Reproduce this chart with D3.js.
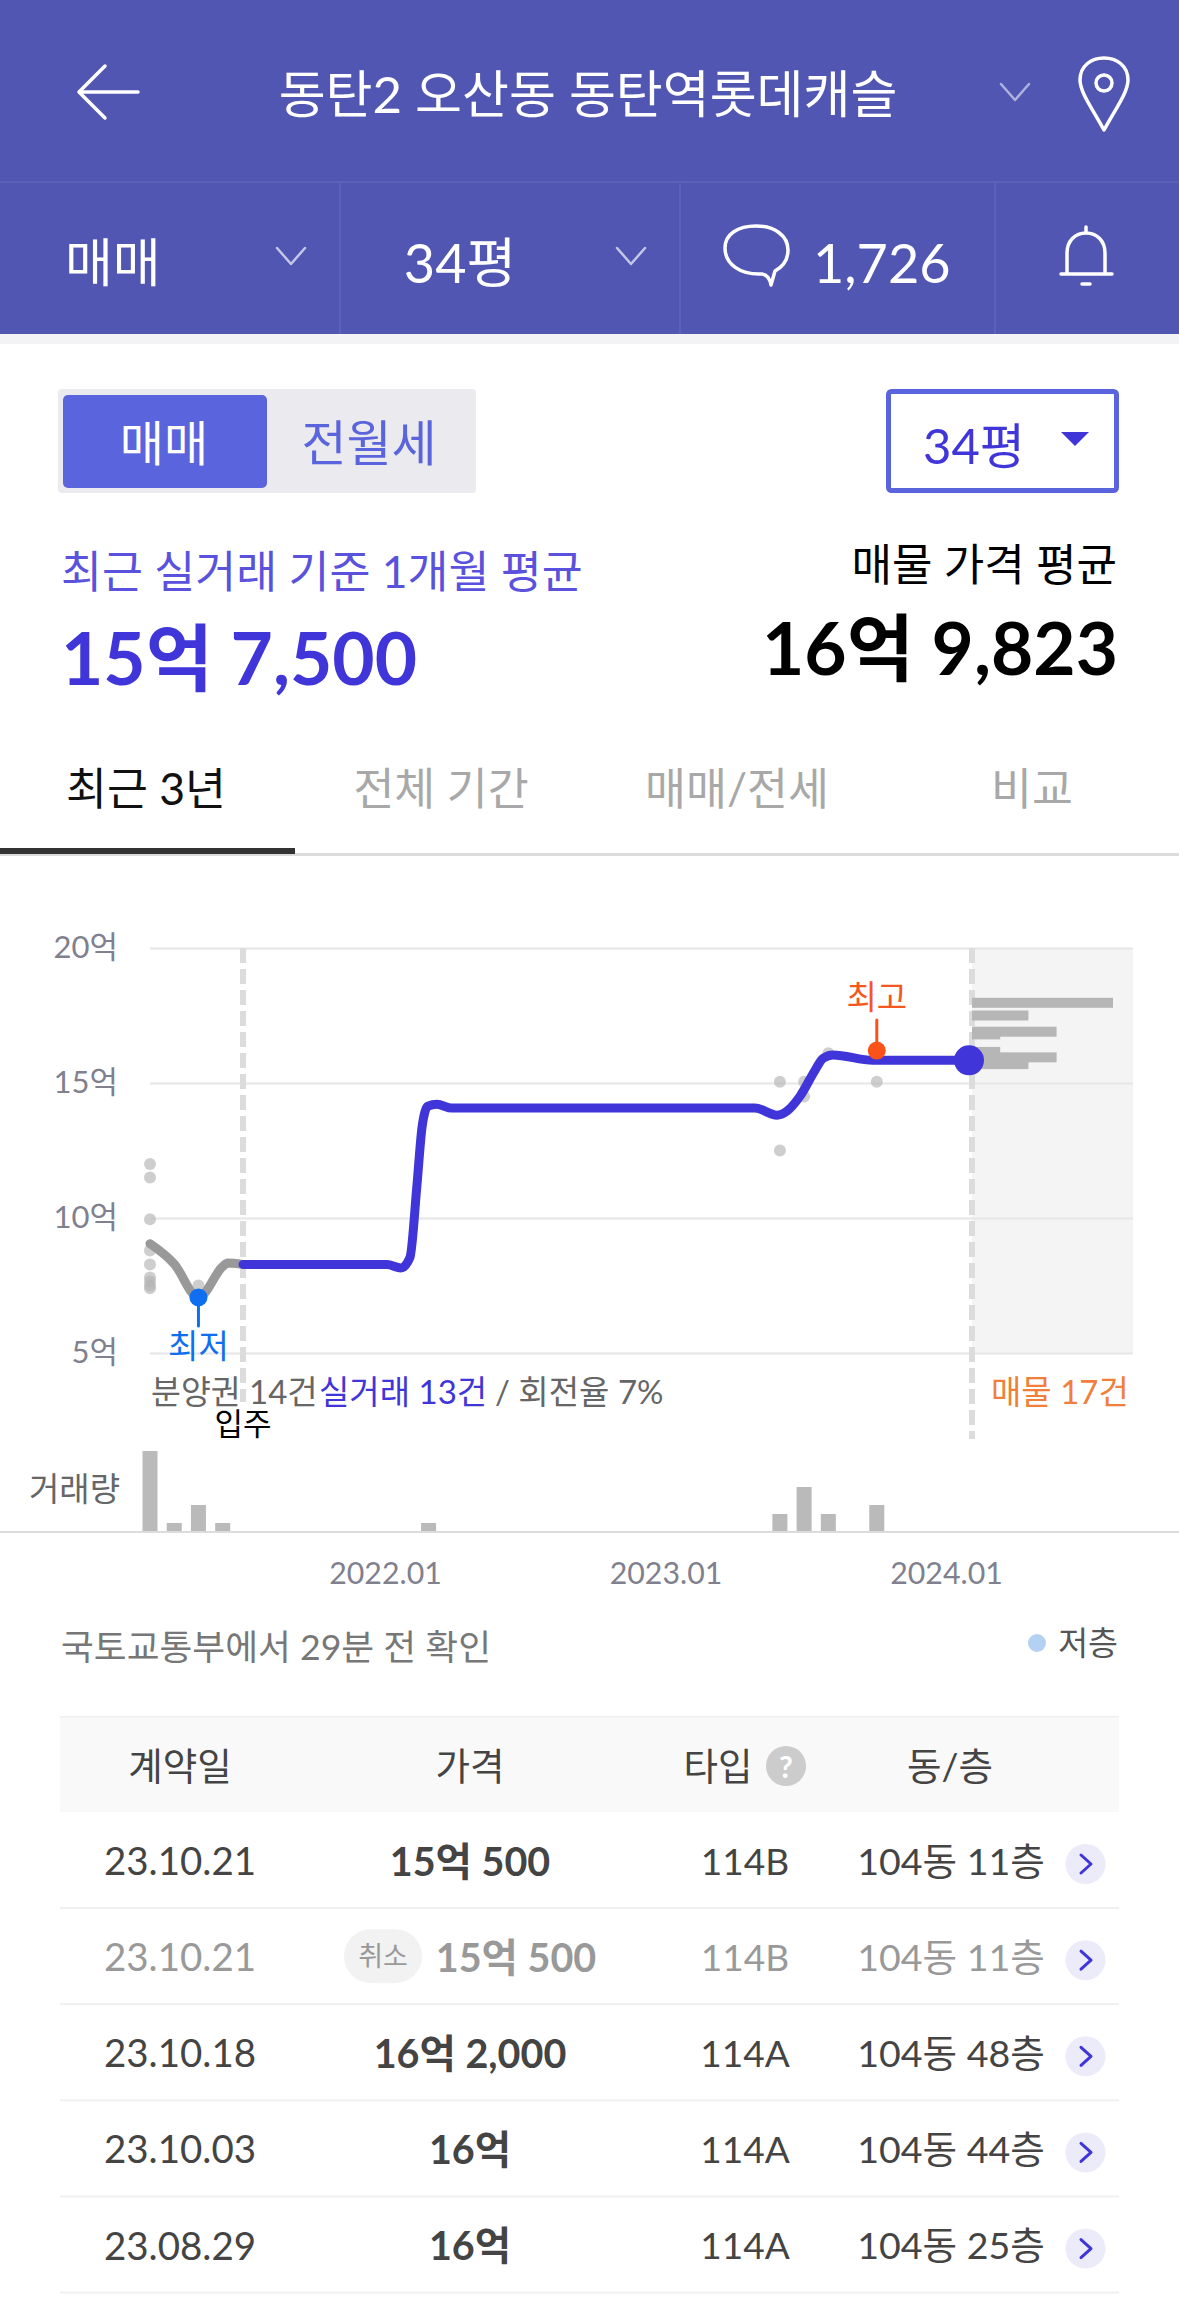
<!DOCTYPE html>
<html lang="ko">
<head>
<meta charset="utf-8">
<title>동탄역롯데캐슬 실거래가</title>
<script src="https://cdn.jsdelivr.net/npm/d3@7"></script>
<style>
	html, body { margin: 0; padding: 0; background: #fff; }
	svg { display: block; }
	text { font-family: Lato, "Noto Sans CJK KR", sans-serif; }
</style>
</head>
<body>
<svg id="page" width="1179" height="2297" viewBox="0 0 1179 2297"></svg>
<script>
// price ticks (unit: 억)
const priceTicks = [5, 10, 15, 20];
const yearTicks = ['2022-01', '2023-01', '2024-01'];

// months counted from 2021.04, fractions where the curve bends between months
const presaleMonths = [0, 1, 2, 3, 3.2, 3.84];
const presalePrices = [9.05, 8.3, 7.06, 8.2, 8.33, 8.28];
const tradeMonths = [3.84, 9.78, 10.36, 10.73, 11.02, 11.23, 11.47, 11.84, 12.46, 24.97, 25.88, 26.29, 26.83, 27.45, 27.78, 28.19, 29.84, 33.93];
const tradePrices = [8.28, 8.28, 8.15, 8.54, 11.23, 13.37, 14.14, 14.21, 14.07, 14.07, 13.81, 13.96, 14.51, 15.47, 15.91, 16.04, 15.84, 15.84];

// single deals
const dealMonths = [0, 0, 0, 0, 0, 0, 0, 0, 0, 2, 26, 26, 27, 27, 28, 30];
const dealPrices = [12, 11.5, 9.95, 8.8, 8.28, 7.8, 7.65, 7.5, 7.4, 7.5, 15.05, 12.5, 15.05, 14.5, 16.1, 15.05];

// deals per month
const volumeMonths = [0, 1, 2, 3, 11.5, 26, 27, 28, 30];
const volumeCounts = [9, 1, 3, 1, 1, 2, 5, 2, 3];

// listings: asking price and count
const listingPrices = [17.97, 17.5, 16.9, 16.8, 16.15, 15.95, 15.7];
const listingCounts = [5, 2, 3, 1, 1, 3, 2];

const lowMonth = 2, lowPrice = 7.06;
const highMonth = 30, highPrice = 16.2;
const moveInMonth = 3.84, lastMonth = 33.93, lastPrice = 15.84;

// table
const tableHeads = ['계약일', '가격', '타입', '동/층'];
const tableDates = ['23.10.21', '23.10.21', '23.10.18', '23.10.03', '23.08.29'];
const tablePrices = ['15억 500', '15억 500', '16억 2,000', '16억', '16억'];
const tableTypes = ['114B', '114B', '114A', '114A', '114A'];
const tableUnits = ['104동 11층', '104동 11층', '104동 48층', '104동 44층', '104동 25층'];
const tableCancelled = [false, true, false, false, false];

const BLUE = '#3f35d9', SOFT = '#5a64dc', HEAD = '#5056b2';
const svg = d3.select('#page');

const label = (x, y, str, size, fill, o = {}) =>
	svg.append('text')
		.attr('x', x).attr('y', y)
		.attr('font-size', size).attr('fill', fill)
		.attr('text-anchor', o.anchor || 'middle')
		.attr('dominant-baseline', 'central')
		.attr('font-weight', o.weight || 400)
		.text(str);

const stroke = (d, color, width = 3) =>
	svg.append('path').attr('d', d).attr('fill', 'none')
		.attr('stroke', color).attr('stroke-width', width)
		.attr('stroke-linecap', 'round').attr('stroke-linejoin', 'round');

const chevron = (x, y, color) => stroke(`M${x - 14},${y - 8}L${x},${y + 8}L${x + 14},${y - 8}`, color, 2.5);

// top bars
svg.append('rect').attr('width', 1179).attr('height', 334).attr('fill', HEAD);
svg.append('rect').attr('y', 334).attr('width', 1179).attr('height', 10).attr('fill', '#f3f3f5');
svg.append('rect').attr('y', 181).attr('width', 1179).attr('height', 2).attr('fill', '#5a61b9');
[339, 679, 994].forEach((x) => svg.append('rect').attr('x', x).attr('y', 183).attr('width', 2).attr('height', 151).attr('fill', '#5a61b9'));

stroke('M79,92L138,92M105,66L79,92L105,118', '#fff', 3.5);
label(588, 93, '동탄2 오산동 동탄역롯데캐슬', 51, '#fff');
chevron(1015, 92, '#aeb2dd');
stroke('M1104,130C1092,108 1080,92 1080,80C1080,66 1091,58 1104,58C1117,58 1128,66 1128,80C1128,92 1116,108 1104,130Z', '#fff', 3.5);
svg.append('circle').attr('cx', 1104).attr('cy', 83).attr('r', 8).attr('fill', 'none').attr('stroke', '#fff').attr('stroke-width', 3.5);

label(65, 262, '매매', 52, '#fff', { anchor: 'start' });
chevron(291, 256, '#c4c7e8');
label(460, 262, '34평', 54, '#fff');
chevron(631, 256, '#c4c7e8');
stroke('M771,285C770,279 768,275 762,274C740,275 725,264 725,248C725,234 738,226 756,226C775,226 788,236 788,250C788,259 784,266 775,271Z', '#fff', 3.5);
label(813, 262, '1,726', 54, '#fff', { anchor: 'start' });
stroke('M1086,227L1086,233M1061,274L1112,274M1067,274L1067,253C1067,241 1075,233 1086,233C1097,233 1105,241 1105,253L1105,274', '#fff', 3.5);
stroke('M1082,284L1090,284', '#fff', 3.5);

// switches
svg.append('rect').attr('x', 58).attr('y', 389).attr('width', 418).attr('height', 104).attr('rx', 4).attr('fill', '#ebebef');
svg.append('rect').attr('x', 63).attr('y', 395).attr('width', 204).attr('height', 93).attr('rx', 5).attr('fill', SOFT);
label(164, 442, '매매', 48, '#fff');
label(369, 442, '전월세', 49, SOFT);
svg.append('rect').attr('x', 888.5).attr('y', 391.5).attr('width', 228).attr('height', 99).attr('rx', 3)
	.attr('fill', '#fff').attr('stroke', SOFT).attr('stroke-width', 5);
label(974, 445, '34평', 49, BLUE);
svg.append('path').attr('d', 'M1061,432L1089,432L1075,446Z').attr('fill', BLUE);

// summary
label(61, 570, '최근 실거래 기준 1개월 평균', 44.5, '#5a52dc', { anchor: 'start' });
label(61, 657, '15억 7,500', 73, BLUE, { anchor: 'start', weight: 700 });
label(1117, 564, '매물 가격 평균', 44, '#000', { anchor: 'end' });
label(1118, 647, '16억 9,823', 73, '#000', { anchor: 'end', weight: 700 });

// tabs
label(146, 787, '최근 3년', 44.5, '#111');
label(441, 787, '전체 기간', 44.5, '#a8a8a8');
label(737, 787, '매매/전세', 44.5, '#a8a8a8');
label(1032, 787, '비교', 44.5, '#a8a8a8');
svg.append('rect').attr('y', 853).attr('width', 1179).attr('height', 3).attr('fill', '#dcdcdc');
svg.append('rect').attr('y', 848).attr('width', 295).attr('height', 6).attr('fill', '#333');

// scales
const x = d3.scaleLinear().domain([0, lastMonth]).range([150, 972]);
const y = d3.scaleLinear().domain([5, 20]).range([1353, 948]);
const yearX = d3.scaleTime().domain([new Date(2022, 0, 1), new Date(2024, 0, 1)]).range([385, 946]);
const volY = d3.scaleLinear().domain([0, 9]).range([1532, 1451]);
const listW = d3.scaleLinear().domain([0, 5]).range([0, 141]);

// listing panel
svg.append('rect').attr('x', x(lastMonth)).attr('y', y(20)).attr('width', 161).attr('height', y(5) - y(20)).attr('fill', '#f4f4f5');

// grid
const grid = svg.append('g').attr('transform', 'translate(150,0)')
	.call(d3.axisRight(y).tickValues(priceTicks).tickSize(983).tickFormat(''));
grid.select('.domain').remove();
grid.selectAll('line').attr('stroke', '#e6e6e6').attr('stroke-width', 2);

const yAxis = svg.append('g').attr('transform', 'translate(118,0)')
	.call(d3.axisLeft(y).tickValues(priceTicks).tickSize(0).tickPadding(0).tickFormat((d) => d + '억'));
yAxis.select('.domain').remove();
yAxis.selectAll('text').attr('font-size', 31).attr('font-family', null).attr('fill', '#80808e');

// move-in and today markers
svg.append('line').attr('x1', x(moveInMonth)).attr('x2', x(moveInMonth)).attr('y1', 948).attr('y2', 1402)
	.attr('stroke', '#dcdcdc').attr('stroke-width', 6).attr('stroke-dasharray', '15 6');
svg.append('line').attr('x1', x(lastMonth)).attr('x2', x(lastMonth)).attr('y1', 948).attr('y2', 1439)
	.attr('stroke', '#dcdcdc').attr('stroke-width', 6).attr('stroke-dasharray', '15 6');

// listings
svg.append('g').selectAll('rect').data(listingPrices).join('rect')
	.attr('x', x(lastMonth))
	.attr('y', (d) => y(d) - 5)
	.attr('width', (d, i) => listW(listingCounts[i]))
	.attr('height', 10)
	.attr('fill', '#b6b6b6');

// deals
svg.append('g').selectAll('circle').data(dealPrices).join('circle')
	.attr('cx', (d, i) => x(dealMonths[i]))
	.attr('cy', (d) => y(d))
	.attr('r', 6)
	.attr('fill', '#b4b4b4')
	.attr('fill-opacity', 0.65);

// price lines
const priceLine = d3.line().x((d) => x(d[0])).y((d) => y(d[1])).curve(d3.curveMonotoneX);
stroke(priceLine(d3.zip(presaleMonths, presalePrices)), '#999', 9);
stroke(priceLine(d3.zip(tradeMonths, tradePrices)), BLUE, 9);

// lowest
stroke(`M${x(lowMonth)},${y(lowPrice)}L${x(lowMonth)},1326`, '#0f6ff0', 3);
svg.append('circle').attr('cx', x(lowMonth)).attr('cy', y(lowPrice)).attr('r', 9).attr('fill', '#0f6ff0');
label(x(lowMonth), 1345, '최저', 33, '#0f6ff0');

// highest
stroke(`M${x(highMonth)},${y(highPrice)}L${x(highMonth)},1020`, '#f9531a', 3);
svg.append('circle').attr('cx', x(highMonth)).attr('cy', y(highPrice)).attr('r', 9).attr('fill', '#f9531a');
label(x(highMonth), 996, '최고', 33, '#f4571f');

// latest
svg.append('circle').attr('cx', x(lastMonth) - 3).attr('cy', y(lastPrice)).attr('r', 15).attr('fill', BLUE);

// captions
label(151, 1391, '분양권', 32.5, '#666', { anchor: 'start' });
label(249, 1391, '14건', 33, '#666', { anchor: 'start' });
label(319, 1391, '실거래 13건', 33, BLUE, { anchor: 'start' });
label(495, 1391, '/ 회전율 7%', 33, '#666', { anchor: 'start' });
label(243, 1423, '입주', 31, '#000');
label(991, 1391, '매물 17건', 33, '#ef7f3a', { anchor: 'start' });
label(29, 1488, '거래량', 33, '#666', { anchor: 'start' });

// volume
svg.append('g').selectAll('rect').data(volumeCounts).join('rect')
	.attr('x', (d, i) => x(volumeMonths[i]) - 7.5)
	.attr('y', (d) => volY(d))
	.attr('width', 15)
	.attr('height', (d) => volY(0) - volY(d))
	.attr('fill', '#bababa');
svg.append('rect').attr('y', 1531).attr('width', 1179).attr('height', 2).attr('fill', '#dcdcdc');

const xAxis = svg.append('g').attr('transform', 'translate(0,1572)')
	.call(d3.axisBottom(yearX).tickValues(yearTicks.map((d) => d3.timeParse('%Y-%m')(d))).tickSize(0).tickPadding(0).tickFormat(d3.timeFormat('%Y.%m')));
xAxis.select('.domain').remove();
xAxis.selectAll('text').attr('font-size', 30.3).attr('font-family', null).attr('fill', '#80808e').attr('dy', null).attr('dominant-baseline', 'central');

// source line
label(61, 1646, '국토교통부에서 29분 전 확인', 35.7, '#777', { anchor: 'start' });
svg.append('circle').attr('cx', 1037).attr('cy', 1643).attr('r', 9).attr('fill', '#b3d1f2');
label(1118, 1642, '저층', 32.5, '#555', { anchor: 'end' });

// table
const colDate = 180, colPrice = 470, colType = 745, colUnit = 951;
svg.append('rect').attr('x', 60).attr('y', 1716).attr('width', 1059).attr('height', 96).attr('fill', '#f9f9f9');
svg.append('rect').attr('x', 60).attr('y', 1716).attr('width', 1059).attr('height', 1.5).attr('fill', '#efefef');
label(colDate, 1765, tableHeads[0], 37.5, '#444');
label(colPrice, 1765, tableHeads[1], 37.5, '#444');
label(718, 1765, tableHeads[2], 37.5, '#444');
svg.append('circle').attr('cx', 786).attr('cy', 1766).attr('r', 20).attr('fill', '#ccc');
label(786, 1766, '?', 30, '#fff', { weight: 700 });
label(950, 1765, tableHeads[3], 37.5, '#444');

const rowY = d3.scaleLinear().domain([0, 4]).range([1860, 2244.6]);
tableDates.forEach((date, i) => {
	const cy = rowY(i);
	const off = tableCancelled[i];
	const ink = off ? '#999' : '#444';
	label(colDate, cy, date, 38.5, ink);
	if (off) {
		svg.append('rect').attr('x', 344).attr('y', cy - 27).attr('width', 78).attr('height', 54).attr('rx', 27).attr('fill', '#f2f2f2');
		label(383, cy - 1, '취소', 27, '#999');
		label(516, cy, tablePrices[i], 39.5, ink, { weight: 700 });
	} else {
		label(colPrice, cy, tablePrices[i], 39.5, ink, { weight: 700 });
	}
	label(colType, cy, tableTypes[i], 37, ink);
	label(colUnit, cy, tableUnits[i], 37.5, ink);
	svg.append('circle').attr('cx', 1085.5).attr('cy', cy + 4).attr('r', 20).attr('fill', '#ecebfa');
	stroke(`M${1081},${cy - 5}L${1091},${cy + 4}L${1081},${cy + 13}`, BLUE, 3);
	svg.append('rect').attr('x', 60).attr('y', cy + 47).attr('width', 1059).attr('height', 2).attr('fill', '#f0f0f0');
});
</script>
</body>
</html>
